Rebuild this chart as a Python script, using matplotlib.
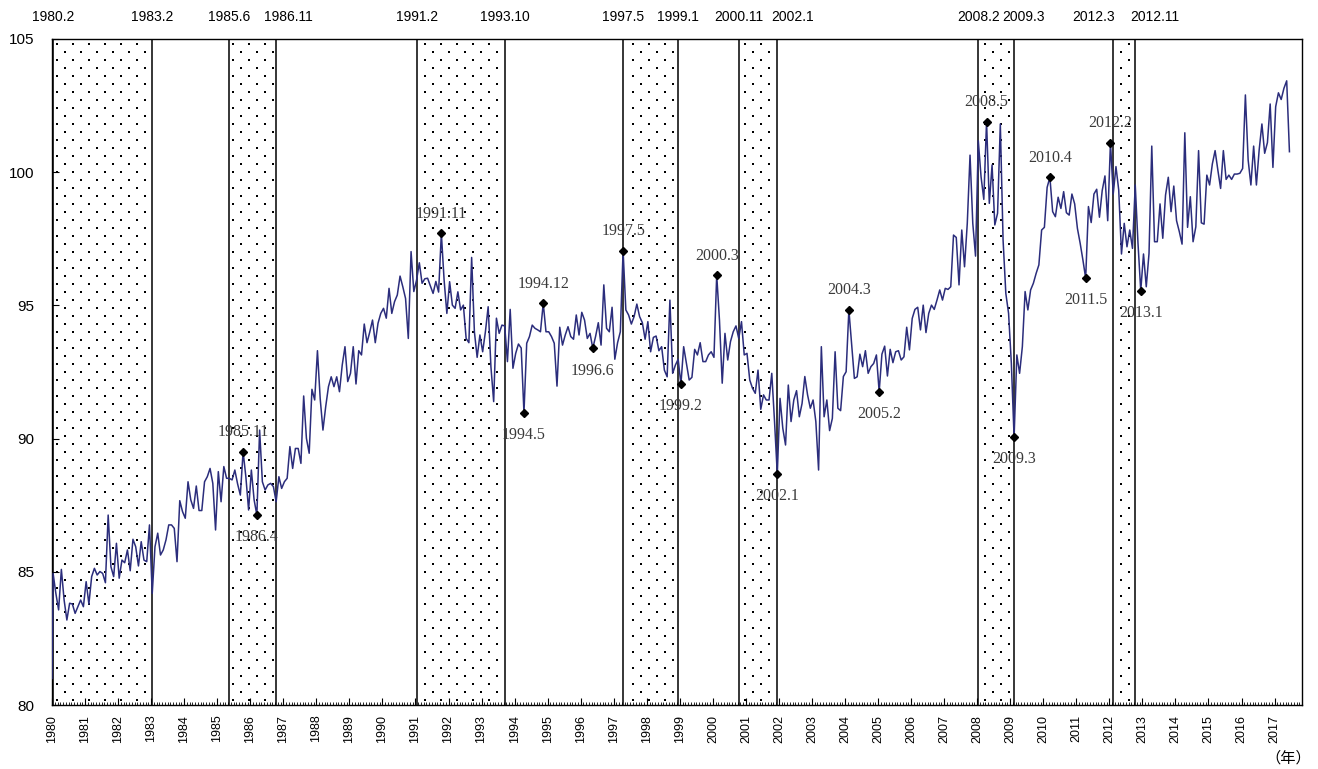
import numpy as np
import matplotlib
matplotlib.use('Agg')
import matplotlib.pyplot as plt
from matplotlib.ticker import MultipleLocator

plt.rcParams['font.family'] = ['Liberation Sans', 'Noto Sans CJK JP', 'DejaVu Sans']

# Monthly index, starting 1980.1 (one row per year)
start_year = 1980
index_values = [
    81.00, 84.94, 84.19, 83.57, 85.09, 83.94, 83.19, 83.82, 83.79, 83.44, 83.69, 83.94,
    83.69, 84.63, 83.79, 84.82, 85.13, 84.88, 85.01, 84.94, 84.59, 87.13, 85.19, 84.82,
    86.07, 84.76, 85.44, 85.34, 85.82, 85.04, 86.22, 85.94, 85.22, 86.13, 85.44, 85.38,
    86.76, 84.19, 85.94, 86.45, 85.63, 85.82, 86.20, 86.76, 86.76, 86.63, 85.38, 87.67,
    87.26, 87.01, 88.38, 87.70, 87.38, 88.22, 87.30, 87.30, 88.38, 88.57, 88.88, 88.32,
    86.57, 88.76, 87.63, 88.95, 88.51, 88.51, 88.45, 88.82, 88.30, 87.88, 89.51, 88.57,
    87.32, 88.82, 87.70, 87.13, 90.32, 88.38, 88.07, 88.26, 88.32, 88.20, 87.63, 88.57,
    88.13, 88.38, 88.51, 89.70, 88.88, 89.63, 89.63, 89.07, 91.60, 90.01, 89.45, 91.85,
    91.45, 93.30, 91.50, 90.32, 91.20, 91.95, 92.32, 91.95, 92.32, 91.76, 92.76, 93.45,
    92.14, 92.45, 93.45, 92.05, 93.30, 93.14, 94.30, 93.60, 94.00, 94.45, 93.60, 94.33,
    94.70, 94.89, 94.52, 95.64, 94.70, 95.14, 95.39, 96.10, 95.70, 95.26, 93.76, 97.02,
    95.52, 95.95, 96.60, 95.83, 96.00, 96.02, 95.73, 95.45, 95.90, 95.50, 97.70, 95.95,
    94.70, 95.89, 95.01, 94.89, 95.51, 94.83, 95.01, 93.76, 93.60, 96.80, 94.01, 93.05,
    93.89, 93.26, 94.01, 94.95, 92.70, 91.39, 94.52, 93.95, 94.26, 94.23, 92.89, 94.85,
    92.64, 93.20, 93.55, 93.40, 90.97, 93.58, 93.83, 94.26, 94.14, 94.08, 94.01, 95.08,
    94.01, 94.01, 93.83, 93.58, 91.97, 94.18, 93.51, 93.89, 94.20, 93.83, 93.73, 94.64,
    93.89, 94.74, 94.45, 93.76, 93.95, 93.39, 93.83, 94.35, 93.51, 95.77, 94.14, 94.01,
    94.93, 92.98, 93.60, 94.01, 97.05, 94.83, 94.64, 94.30, 94.58, 95.05, 94.58, 94.35,
    93.73, 94.39, 93.26, 93.80, 93.85, 93.30, 93.45, 92.57, 92.32, 95.20, 92.45, 92.76,
    92.98, 92.04, 93.45, 92.83, 92.20, 92.30, 93.35, 93.14, 93.60, 92.89, 92.89, 93.14,
    93.26, 93.05, 96.14, 94.45, 92.08, 93.95, 92.95, 93.64, 94.01, 94.23, 93.76, 94.39,
    93.14, 93.20, 92.20, 91.89, 91.70, 92.57, 91.10, 91.64, 91.45, 91.45, 92.45, 90.64,
    88.67, 91.51, 90.39, 89.76, 92.01, 90.64, 91.45, 91.80, 90.82, 91.32, 92.33, 91.64,
    91.14, 91.45, 90.64, 88.82, 93.45, 90.82, 91.45, 90.30, 90.76, 93.26, 91.14, 91.05,
    92.33, 92.51, 94.83, 93.57, 92.26, 92.32, 93.17, 92.70, 93.30, 92.45, 92.70, 92.82,
    93.14, 91.76, 93.17, 93.47, 92.35, 93.35, 92.85, 93.26, 93.30, 92.95, 93.07, 94.18,
    93.33, 94.51, 94.85, 94.93, 94.08, 95.01, 93.98, 94.70, 95.01, 94.85, 95.20, 95.58,
    95.20, 95.64, 95.60, 95.70, 97.64, 97.55, 95.77, 97.83, 96.45, 98.08, 100.64, 98.08,
    96.85, 101.18, 99.83, 98.98, 101.90, 98.83, 100.27, 98.02, 98.46, 101.81, 97.45, 95.45,
    94.70, 92.83, 90.05, 93.14, 92.45, 93.45, 95.52, 94.83, 95.58, 95.83, 96.20, 96.52,
    97.83, 97.93, 99.43, 99.81, 98.52, 98.33, 99.06, 98.64, 99.27, 98.48, 98.39, 99.18,
    98.81, 97.89, 97.33, 96.70, 96.02, 98.71, 98.11, 99.18, 99.36, 98.31, 99.31, 99.86,
    98.18, 101.11, 99.18, 100.21, 99.33, 96.93, 98.08, 97.20, 97.83, 97.14, 99.52, 97.33,
    95.55, 96.93, 95.70, 96.95, 100.98, 97.39, 97.39, 98.81, 97.52, 99.14, 99.81, 98.52,
    99.48, 98.18, 97.77, 97.30, 101.48, 97.93, 99.08, 97.39, 97.95, 100.81, 98.10, 98.05,
    99.89, 99.52, 100.31, 100.81, 100.08, 99.39, 100.81, 99.73, 99.89, 99.73, 99.93, 99.93,
    99.96, 100.14, 102.90, 100.46, 99.52, 100.98, 99.52, 100.83, 101.81, 100.71, 101.11, 102.56,
    100.18, 102.46, 102.98, 102.73, 103.15, 103.43, 100.77,
]

# 景気後退期（山 -> 谷）
recession_starts = ['1980.2', '1985.6', '1991.2', '1997.5', '2000.11', '2008.2', '2012.3']
recession_ends = ['1983.2', '1986.11', '1993.10', '1999.1', '2002.1', '2009.3', '2012.11']

# 注記する月（山は上、谷は下にラベル）
peak_labels = ['1985.11', '1991.11', '1994.12', '1997.5', '2000.3', '2004.3',
               '2008.5', '2010.4', '2012.2']
trough_labels = ['1986.4', '1994.5', '1996.6', '1999.2', '2002.1', '2005.2',
                 '2009.3', '2011.5', '2013.1']

year_ticks = list(range(1980, 2018))

# 月の位置（年目盛りから半月ほど左寄せ）
MONTH_SHIFT = -0.6


def ym_to_x(label):
    y, m = label.split('.')
    return int(y) + (int(m) - 1 + MONTH_SHIFT) / 12.0


def ym_to_idx(label):
    y, m = label.split('.')
    return (int(y) - start_year) * 12 + int(m) - 1


W, H, DPI = 1318, 769, 100
fig = plt.figure(figsize=(W / DPI, H / DPI), dpi=DPI)
left, right, top, bottom = 52 / W, 1302 / W, 1 - 39 / H, 1 - 705 / H
ax = fig.add_axes([left, bottom, right - left, top - bottom])

x0, x1 = 1980.0, 2017.83
y0, y1 = 80, 105
ax.set_xlim(x0, x1)
ax.set_ylim(y0, y1)

xs = start_year + (np.arange(len(index_values)) + MONTH_SHIFT) / 12.0
xs[0] = max(xs[0], x0)
vals = np.array(index_values)

# 網掛け（ドット）
ax_w = W * (right - left)
ax_h = H * (top - bottom)
dx = 16 * (x1 - x0) / ax_w
dy = 8 * (y1 - y0) / ax_h
mx = 3 * (x1 - x0) / ax_w
dot_x, dot_y = [], []
for r, yy in enumerate(np.arange(y0 + dy * 0.6, y1, dy)):
    cols = np.arange(x0 + (r % 2) * dx / 2 + dx * 0.3, x1, dx)
    for s, e in zip(recession_starts, recession_ends):
        a, b = ym_to_x(s), ym_to_x(e)
        sel = cols[(cols > a + mx) & (cols < b - mx)]
        dot_x.extend(sel)
        dot_y.extend([yy] * len(sel))
ax.scatter(dot_x, dot_y, s=2.2, marker='s', c='black', linewidths=0, zorder=1)

# 山・谷の縦線と上部ラベル
nudge = {'1980.2': 0, '1986.11': 9, '2002.1': 11, '2009.3': 7,
         '2012.3': -14, '2012.11': 14}
for lab in recession_starts + recession_ends:
    xv = ym_to_x(lab)
    ax.axvline(xv, color='black', lw=1.1, zorder=2)
    ax.annotate(lab, xy=(xv, 1.0), xycoords=('data', 'axes fraction'),
                xytext=(nudge.get(lab, 0), 16), textcoords='offset points',
                ha='center', va='center', fontsize=10, color='black',
                annotation_clip=False)

ax.plot(xs, vals, color='#2B2D7C', lw=1.1, zorder=3)

for lab in peak_labels + trough_labels:
    i = ym_to_idx(lab)
    ax.plot(xs[i], vals[i], marker='D', ms=4, color='black', zorder=4)
    off = 14 if lab in peak_labels else -16
    ax.annotate(lab, xy=(xs[i], vals[i]), xytext=(0, off),
                textcoords='offset points', ha='center', va='center',
                fontsize=11.5, family='Liberation Serif', color='#3a3a3a',
                zorder=5)

ax.set_xticks(year_ticks)
ax.set_xticklabels([str(y) for y in year_ticks], rotation=90)
ax.xaxis.set_minor_locator(MultipleLocator(1 / 12.0))
ax.set_yticks(range(80, 106, 5))
ax.tick_params(axis='x', which='major', direction='in', length=5, width=0.8,
               labelsize=9, pad=7)
ax.tick_params(axis='x', which='minor', direction='in', length=2.5, width=0.6)
ax.tick_params(axis='y', which='major', direction='in', length=5, width=0.8,
               labelsize=11, pad=13)
for sp in ax.spines.values():
    sp.set_color('black')
    sp.set_linewidth(1.0)

fig.text(1288 / W, 1 - 758 / H, '（年）', ha='center', va='center', fontsize=11,
         family=['Noto Sans CJK JP', 'DejaVu Sans'])

fig.savefig('out.png', dpi=DPI)
